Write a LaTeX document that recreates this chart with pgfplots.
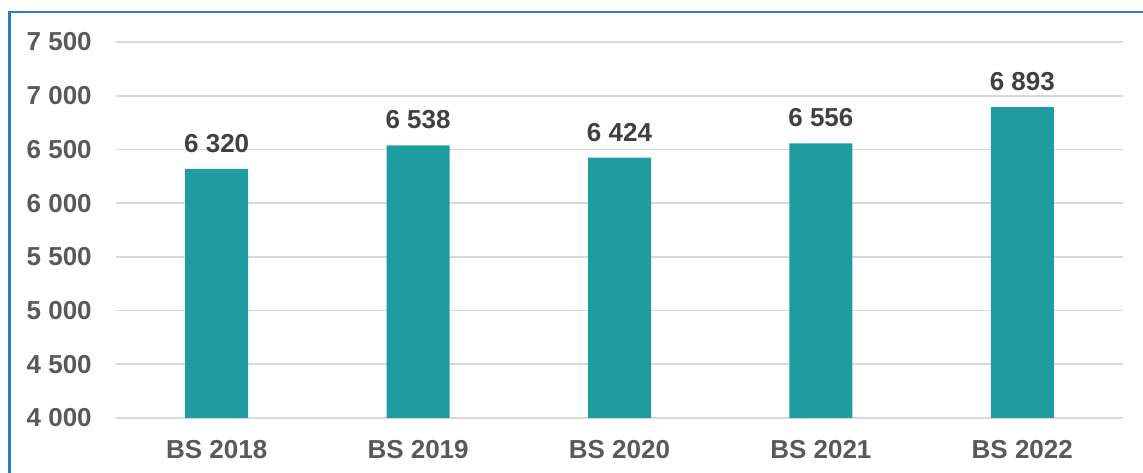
\documentclass[border=0pt]{standalone}
\usepackage{pgfplots}
\pgfplotsset{compat=1.18}
\usepackage{fontspec}
\setmainfont{Liberation Sans}
\definecolor{barc}{RGB}{31,156,159}
\definecolor{txt}{RGB}{89,89,89}
\definecolor{lbl}{RGB}{64,64,64}
\definecolor{gridc}{RGB}{217,217,217}
\definecolor{frame}{RGB}{46,122,196}
\begin{document}
\begin{tikzpicture}
\useasboundingbox (0pt,0pt) rectangle (857.25pt,354.75pt);
\draw[frame, line width=1.9pt] (7.1pt,0pt) -- (7.1pt,345.75pt) -- (857.25pt,345.75pt);
\begin{axis}[
  at={(87pt,41.25pt)}, anchor=south west,
  scale only axis, width=755.25pt, height=282pt,
  xmin=-0.5, xmax=4.5, ymin=4000, ymax=7500,
  ybar, bar width=47.25pt,
  axis line style={draw=none},
  major tick length=0pt,
  ymajorgrids, grid style={gridc, line width=1.2pt},
  ytick={4000,4500,5000,5500,6000,6500,7000,7500},
  yticklabels={4 000,4 500,5 000,5 500,6 000,6 500,7 000,7 500},
  xtick={0,1,2,3,4},
  xticklabels={BS 2018,BS 2019,BS 2020,BS 2021,BS 2022},
  ticklabel style={font=\fontsize{19.5}{22}\selectfont\bfseries, text=txt, inner sep=0pt},
  yticklabel style={anchor=east, xshift=-18pt},
  xticklabel style={anchor=north, yshift=-16.5pt},
  nodes near coords,
  point meta=explicit symbolic,
  every node near coord/.append style={font=\fontsize{19.5}{22}\selectfont\bfseries, text=lbl, inner sep=0pt, anchor=south, yshift=12pt},
  clip=false,
]
\addplot[fill=barc, draw=none] coordinates {
  (0,6320) [6 320]
  (1,6538) [6 538]
  (2,6424) [6 424]
  (3,6556) [6 556]
  (4,6893) [6 893]
};
\end{axis}
\end{tikzpicture}
\end{document}
